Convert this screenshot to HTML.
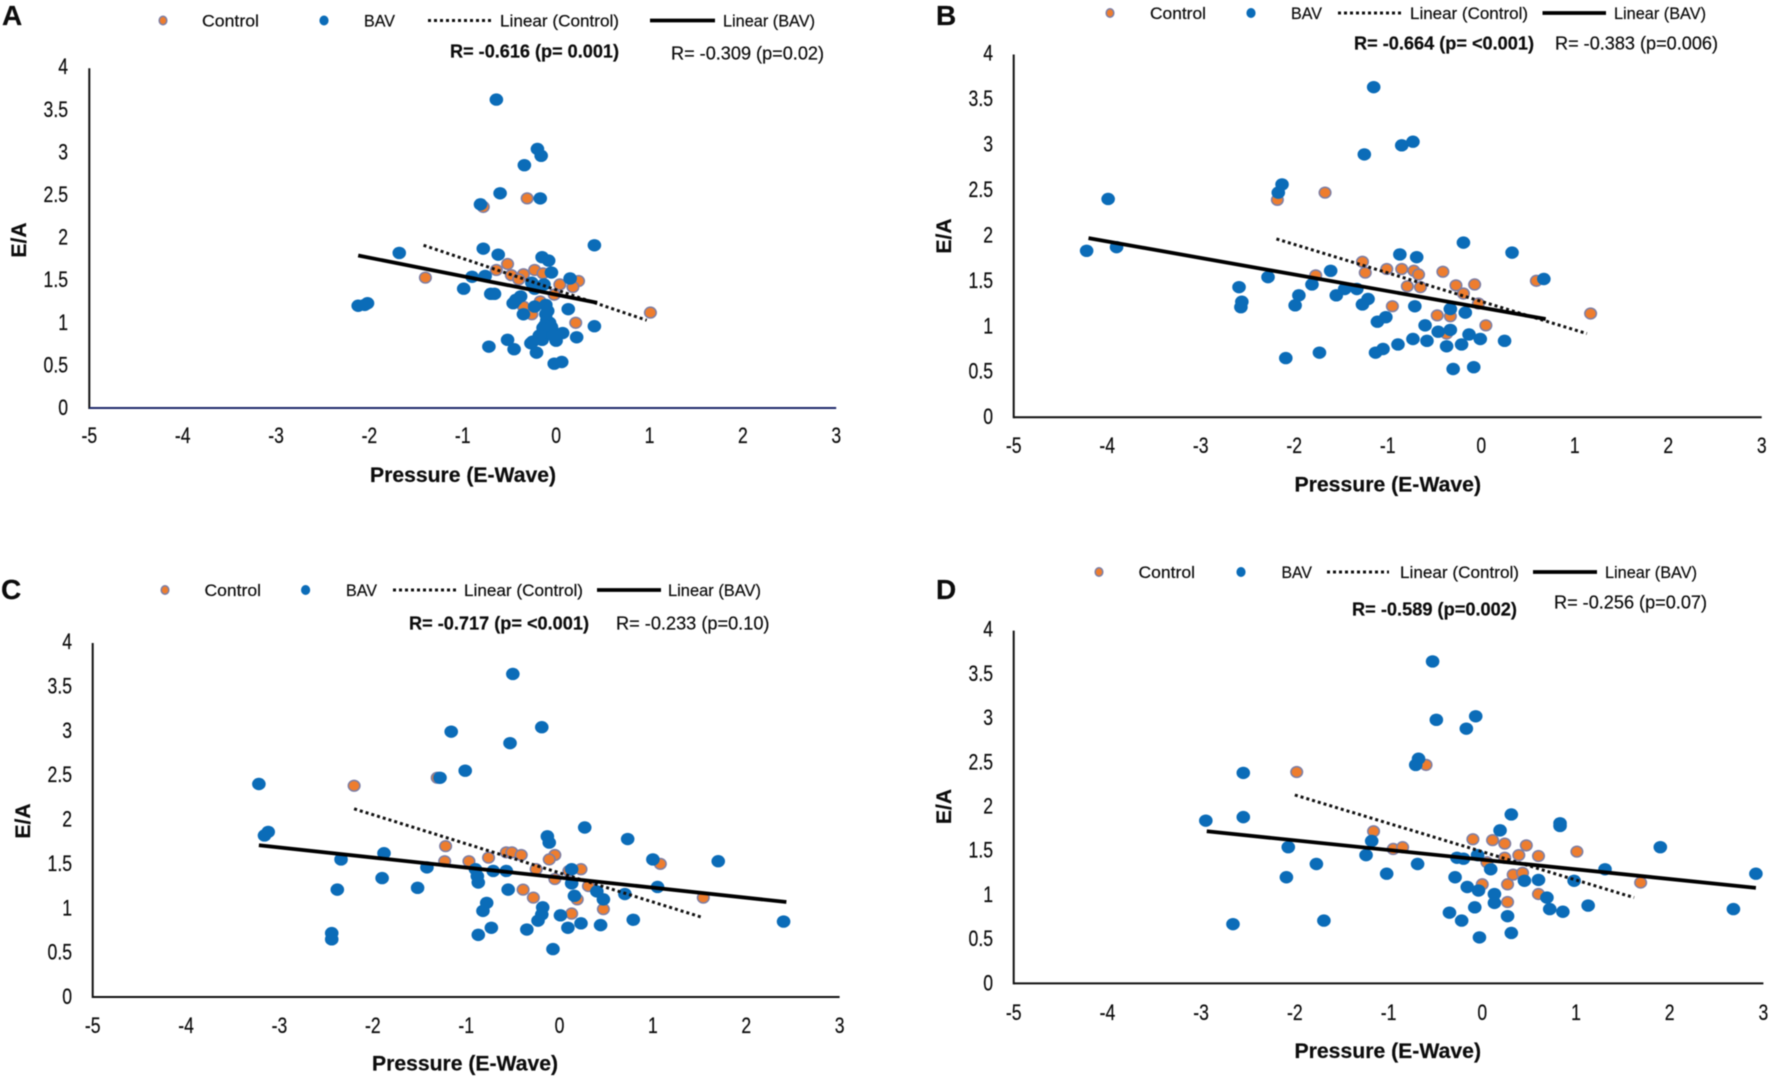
<!DOCTYPE html>
<html lang="en">
<head>
<meta charset="utf-8">
<title>E/A versus Pressure (E-Wave) scatter panels</title>
<style>
html,body{margin:0;padding:0;background:#fff;}
#figure{display:block;width:1772px;height:1082px;filter:blur(0.45px);}
text{font-family:"Liberation Sans",sans-serif;fill:#0c0c0c;stroke:#0c0c0c;stroke-width:0.2px;}
</style>
</head>
<body>
<svg id="figure" xmlns="http://www.w3.org/2000/svg" width="1772" height="1082" viewBox="0 0 1772 1082"></svg>
<script>
// Shared axis ticks
const xTickValues = [-5,-4,-3,-2,-1,0,1,2,3];
const yTickValues = [0,0.5,1,1.5,2,2.5,3,3.5,4];

// Panel A
const aBavX = [-0.64,-0.2,-0.16,-0.34,-0.6,-0.17,-0.81,-1.68,-0.78,-0.62,-0.15,-0.08,0.41,-0.05,-0.9,-0.76,0.15,-0.99,-0.7,-0.66,-0.38,-0.43,-0.46,-0.26,-0.13,-0.23,-0.11,0.13,-0.35,-0.23,-0.11,-0.07,-0.14,0.41,0.07,0.22,-0.52,-0.72,-0.45,-0.27,-0.21,-0.15,0,-0.08,-0.02,0.06,-2.12,-2.05,-2.02,-0.1,-0.12,-0.05,-0.18,-0.25,-0.09,-0.03];
const aBavY = [3.62,3.04,2.96,2.85,2.52,2.46,2.39,1.82,1.87,1.8,1.77,1.73,1.91,1.59,1.54,1.55,1.52,1.4,1.34,1.34,1.31,1.27,1.23,1.47,1.45,1.4,1.21,1.16,1.1,1.19,1.1,1,0.94,0.96,0.88,0.83,0.8,0.72,0.69,0.76,0.65,0.8,0.79,0.88,0.52,0.54,1.2,1.21,1.23,1.03,0.97,0.95,0.85,0.78,1.14,0.85];
const aControlX = [-1.4,-0.78,-0.31,-0.64,-0.52,-0.48,-0.35,-0.4,-0.23,-0.14,0.24,0.18,0.04,-0.02,-0.35,-0.17,-0.26,0.21,-0.03,1.01];
const aControlY = [1.53,2.36,2.46,1.62,1.69,1.56,1.57,1.51,1.62,1.58,1.49,1.42,1.45,1.33,1.19,1.25,1.1,1,0.9,1.12];
const aBavTrendX = [-2.12,0.44];
const aBavTrendY = [1.79,1.235];
const aControlTrendX = [-1.42,0.97];
const aControlTrendY = [1.91,1.03];

// Panel B
const bBavX = [-1.15,-0.73,-0.85,-1.25,-2.13,-2.17,-3.99,-4.22,-3.9,-0.19,0.33,-0.87,-0.69,-1.61,-2.28,0.67,-1.81,-2.59,-1.46,-1.33,-1.95,-1.55,-2.56,-1.21,-1.27,-2.57,-1.99,-0.71,-0.33,-0.17,-1.02,-1.11,-0.6,-0.46,-0.33,-0.13,-0.73,-0.58,-0.01,0.25,-0.89,-0.37,-0.21,-1.05,-1.13,-1.73,-2.09,-0.08,-0.3];
const bBavY = [3.63,3.03,2.99,2.89,2.56,2.47,2.4,1.83,1.87,1.92,1.81,1.79,1.76,1.61,1.54,1.52,1.46,1.43,1.41,1.41,1.34,1.34,1.27,1.3,1.24,1.21,1.23,1.22,1.19,1.15,1.1,1.05,1.01,0.94,0.96,0.91,0.86,0.84,0.86,0.84,0.8,0.78,0.8,0.75,0.71,0.71,0.65,0.55,0.53];
const bControlX = [-2.18,-1.67,-1.27,-1.01,-1.24,-1.77,-0.85,-0.72,-0.67,-0.41,-0.79,-0.65,-0.27,-0.07,-0.19,-0.03,-0.95,-0.47,-0.33,0.05,-0.37,0.59,1.17];
const bControlY = [2.39,2.47,1.71,1.63,1.59,1.56,1.63,1.61,1.57,1.6,1.44,1.43,1.45,1.46,1.36,1.25,1.22,1.12,1.11,1.01,0.92,1.5,1.14];
const bBavTrendX = [-4.2,0.69];
const bBavTrendY = [1.97,1.08];
const bControlTrendX = [-2.19,1.13];
const bControlTrendY = [1.96,0.92];

// Panel C
const cBavX = [-0.5,-0.19,-1.16,-0.53,-1.01,-1.28,-3.22,-3.12,-3.16,0.27,-0.13,-0.11,0.73,-1.88,-2.34,1.7,1,-1.42,-0.9,-0.71,-0.57,0.13,-1.9,-0.88,-0.87,0.13,-1.52,-2.38,-0.55,1.05,0.16,0.4,0.7,0.47,-0.78,-0.82,-0.18,-0.19,-0.23,0.01,0.79,0.23,0.09,0.44,-0.73,-0.35,-0.87,-2.44,-2.44,-0.07,2.4];
const cBavY = [3.64,3.04,2.99,2.86,2.55,2.47,2.4,1.86,1.82,1.91,1.81,1.74,1.78,1.62,1.55,1.53,1.55,1.46,1.44,1.42,1.42,1.44,1.34,1.36,1.29,1.28,1.23,1.21,1.21,1.24,1.14,1.19,1.16,1.1,1.06,0.97,1.01,0.93,0.86,0.92,0.87,0.83,0.78,0.81,0.78,0.76,0.7,0.72,0.65,0.54,0.85];
const cControlX = [-2.2,-1.31,-1.22,-1.23,-0.97,-0.76,-0.57,-0.51,-0.41,-0.05,-0.11,-0.25,0.1,0.23,-0.05,0.31,-0.39,-0.28,0.19,1.08,0.13,0.47,1.54];
const cControlY = [2.38,2.47,1.7,1.53,1.53,1.57,1.63,1.63,1.6,1.6,1.55,1.44,1.42,1.44,1.33,1.25,1.21,1.12,1.1,1.5,0.94,0.99,1.12];
const cBavTrendX = [-3.22,2.43];
const cBavTrendY = [1.71,1.07];
const cControlTrendX = [-2.2,1.52];
const cControlTrendY = [2.12,0.9];

// Panel D
const dBavX = [-0.53,-0.07,-0.49,-0.17,-0.68,-0.71,-2.55,-2.95,-2.55,0.31,0.83,0.83,0.19,-1.18,1.9,-2.07,-1.24,-0.27,-0.2,-0.05,-1.77,-0.69,0.09,1.31,-1.02,2.92,-0.29,-2.09,-0.16,0.45,0.6,0.98,-0.04,0.13,0.69,0.13,-0.08,1.13,0.72,0.86,-0.35,2.68,0.27,-1.69,-0.22,-2.66,0.31,-0.03];
const dBavY = [3.64,3.02,2.98,2.88,2.54,2.47,2.38,1.84,1.88,1.91,1.81,1.78,1.73,1.61,1.54,1.54,1.45,1.42,1.41,1.45,1.35,1.35,1.29,1.29,1.24,1.24,1.2,1.2,1.09,1.16,1.17,1.16,1.05,1.01,0.97,0.91,0.86,0.88,0.84,0.81,0.8,0.84,0.76,0.71,0.71,0.67,0.57,0.52];
const dControlX = [-1.98,-0.6,-1.16,-0.1,0.11,0.24,0.47,-0.95,-0.85,1.01,0.39,0.6,0.24,0.05,0.33,0.43,0.27,0,0.6,0.27,1.69];
const dControlY = [2.39,2.47,1.72,1.63,1.62,1.58,1.56,1.52,1.54,1.49,1.45,1.44,1.42,1.37,1.23,1.25,1.12,1.12,1.01,0.92,1.14];
const dBavTrendX = [-2.94,2.92];
const dBavTrendY = [1.72,1.08];
const dControlTrendX = [-2,1.62];
const dControlTrendY = [2.13,0.97];

const SVGNS = 'http://www.w3.org/2000/svg';
const figure = document.getElementById('figure');

function makeGroup(parent, name) {
  const el = document.createElementNS(SVGNS, 'g');
  
  
  parent.appendChild(el);
  return el;
}

function makeLine(parent, name, x1, y1, x2, y2, color, width, dash) {
  const el = document.createElementNS(SVGNS, 'line');
  
  
  el.setAttribute('x1', x1);
  el.setAttribute('y1', y1);
  el.setAttribute('x2', x2);
  el.setAttribute('y2', y2);
  el.setAttribute('stroke', color);
  el.setAttribute('stroke-width', width);
  if (dash) el.setAttribute('stroke-dasharray', dash);
  parent.appendChild(el);
  return el;
}

function makeText(parent, name, str, x, y, size, bold, anchor, fitWidth, squeeze, rotate) {
  const el = document.createElementNS(SVGNS, 'text');
  
  
  el.textContent = str;
  el.setAttribute('font-size', size);
  if (bold) el.setAttribute('font-weight', 'bold');
  el.setAttribute('text-anchor', anchor || 'start');
  let t = 'translate(' + x + ' ' + y + ')';
  if (rotate) t += ' rotate(' + rotate + ')';
  if (squeeze) t += ' scale(' + squeeze + ' 1)';
  el.setAttribute('transform', t);
  if (fitWidth) {
    el.setAttribute('textLength', fitWidth);
    el.setAttribute('lengthAdjust', 'spacingAndGlyphs');
  }
  parent.appendChild(el);
  return el;
}

function makeDot(parent, name, cx, cy, rx, ry, fill, stroke) {
  const el = document.createElementNS(SVGNS, 'ellipse');
  
  
  el.setAttribute('cx', cx);
  el.setAttribute('cy', cy);
  el.setAttribute('rx', rx);
  el.setAttribute('ry', ry);
  el.setAttribute('fill', fill);
  if (stroke) {
    el.setAttribute('stroke', stroke);
    el.setAttribute('stroke-width', 1.5);
  }
  parent.appendChild(el);
  return el;
}

const BLUE = '#0b6cb8';
const ORANGE = '#ee7d2e';
const OUTLINE = '#7d7fa6';

function drawPanel(p) {
  const g = makeGroup(figure, 'panel-' + p.id.toLowerCase());
  const sx = v => p.x0 + (v - xTickValues[0]) / (xTickValues[xTickValues.length - 1] - xTickValues[0]) * (p.x1 - p.x0);
  const sy = v => p.y0 + (v - yTickValues[0]) / (yTickValues[yTickValues.length - 1] - yTickValues[0]) * (p.y4 - p.y0);

  makeText(g, 'panel-letter', p.id, p.letterX, p.letterY, 28, true);

  // Axes
  makeLine(g, 'y-axis', p.x0, p.y4 + 1, p.x0, p.y0 + 1, '#111', 2);
  makeLine(g, 'x-axis', p.x0, p.y0, p.x1, p.y0, p.xAxisColor, 2);

  xTickValues.forEach(v => {
    makeText(g, 'x-tick-label', String(v), sx(v), p.xTickY, 22, false, 'middle', null, 0.8);
  });
  yTickValues.forEach(v => {
    makeText(g, 'y-tick-label', String(v), p.yTickRight, sy(v) + 7, 22, false, 'end', null, 0.8);
  });
  makeText(g, 'x-axis-title', 'Pressure (E-Wave)', p.titleX, p.titleY, 21, true, 'start', p.titleW);
  makeText(g, 'y-axis-title', 'E/A', p.yTitleX, p.yTitleY, 21, true, 'middle', 35, null, -90);

  // Series
  const controlGroup = makeGroup(g, 'control-series');
  p.controlX.forEach((v, i) => {
    makeDot(controlGroup, 'control-point', sx(v), sy(p.controlY[i]), 5.8, 5.4, ORANGE, OUTLINE);
  });
  const bavGroup = makeGroup(g, 'bav-series');
  p.bavX.forEach((v, i) => {
    makeDot(bavGroup, 'bav-point', sx(v), sy(p.bavY[i]), 6.8, 6.2, BLUE);
  });

  // Trendlines
  makeLine(g, 'linear-control-trendline', sx(p.controlTrendX[0]), sy(p.controlTrendY[0]), sx(p.controlTrendX[1]), sy(p.controlTrendY[1]), '#111', 3, '3 3');
  makeLine(g, 'linear-bav-trendline', sx(p.bavTrendX[0]), sy(p.bavTrendY[0]), sx(p.bavTrendX[1]), sy(p.bavTrendY[1]), '#000', 3.8);

  // Legend
  const lg = makeGroup(g, 'legend');
  const l = p.legend;
  makeDot(lg, 'legend-control-marker', l.controlDot, l.y, 3.8, 4.2, ORANGE, OUTLINE);
  makeText(lg, 'legend-control-label', 'Control', l.controlText[0], l.y + 6, 17, false, 'start', l.controlText[1]);
  makeDot(lg, 'legend-bav-marker', l.bavDot, l.y, 4.6, 5, BLUE);
  makeText(lg, 'legend-bav-label', 'BAV', l.bavText[0], l.y + 6, 17, false, 'start', l.bavText[1]);
  makeLine(lg, 'legend-control-line', l.dotted[0], l.y, l.dotted[1], l.y, '#111', 3, '3 3');
  makeText(lg, 'legend-linear-control-label', 'Linear (Control)', l.dottedText[0], l.y + 6, 17, false, 'start', l.dottedText[1]);
  makeLine(lg, 'legend-bav-line', l.solid[0], l.y, l.solid[1], l.y, '#000', 3.8);
  makeText(lg, 'legend-linear-bav-label', 'Linear (BAV)', l.solidText[0], l.y + 6, 17, false, 'start', l.solidText[1]);

  // Correlation annotations
  const s = p.stats;
  makeText(g, 'control-correlation', s.control[0], s.control[1], s.control[3] + 6.5, 18, true, 'start', s.control[2]);
  makeText(g, 'bav-correlation', s.bav[0], s.bav[1], s.bav[3] + 6.5, 18, false, 'start', s.bav[2]);
}

drawPanel({
  id: 'A', x0: 89.3, x1: 836.2, y0: 408, y4: 67.2, xAxisColor: '#1f2a6b',
  letterX: 2, letterY: 25, yTickRight: 68, xTickY: 443, titleX: 370, titleY: 482, titleW: 186, yTitleX: 26, yTitleY: 240,
  bavX: aBavX, bavY: aBavY, controlX: aControlX, controlY: aControlY,
  bavTrendX: aBavTrendX, bavTrendY: aBavTrendY, controlTrendX: aControlTrendX, controlTrendY: aControlTrendY,
  legend: { y: 20.5, controlDot: 163, controlText: [202, 57], bavDot: 324, bavText: [364, 31], dotted: [428, 492], dottedText: [500, 119], solid: [650, 715], solidText: [723, 92] },
  stats: { control: ['R= -0.616 (p= 0.001)', 450, 169, 51], bav: ['R= -0.309 (p=0.02)', 671, 153, 53] }
});

drawPanel({
  id: 'B', x0: 1013.7, x1: 1761.7, y0: 417.2, y4: 53.5, xAxisColor: '#111',
  letterX: 936, letterY: 25, yTickRight: 993, xTickY: 453, titleX: 1294.5, titleY: 491.5, titleW: 186.5, yTitleX: 951, yTitleY: 236,
  bavX: bBavX, bavY: bBavY, controlX: bControlX, controlY: bControlY,
  bavTrendX: bBavTrendX, bavTrendY: bBavTrendY, controlTrendX: bControlTrendX, controlTrendY: bControlTrendY,
  legend: { y: 13, controlDot: 1110, controlText: [1150, 56], bavDot: 1251, bavText: [1291, 31], dotted: [1338, 1401], dottedText: [1410, 118], solid: [1542.5, 1606], solidText: [1614, 92] },
  stats: { control: ['R= -0.664 (p= <0.001)', 1354, 180, 43], bav: ['R= -0.383 (p=0.006)', 1555, 163, 43] }
});

drawPanel({
  id: 'C', x0: 92.7, x1: 839.6, y0: 997, y4: 642, xAxisColor: '#111',
  letterX: 1, letterY: 599, yTickRight: 72, xTickY: 1033, titleX: 372, titleY: 1070.5, titleW: 186, yTitleX: 30, yTitleY: 821,
  bavX: cBavX, bavY: cBavY, controlX: cControlX, controlY: cControlY,
  bavTrendX: cBavTrendX, bavTrendY: cBavTrendY, controlTrendX: cControlTrendX, controlTrendY: cControlTrendY,
  legend: { y: 590, controlDot: 165, controlText: [204.5, 56.5], bavDot: 305.6, bavText: [346, 31], dotted: [393, 456], dottedText: [464, 119], solid: [597, 661], solidText: [668, 93] },
  stats: { control: ['R= -0.717 (p= <0.001)', 409, 180, 623], bav: ['R= -0.233 (p=0.10)', 616, 153.5, 623] }
});

drawPanel({
  id: 'D', x0: 1013.7, x1: 1763.4, y0: 983.4, y4: 629.6, xAxisColor: '#111',
  letterX: 936, letterY: 599, yTickRight: 993, xTickY: 1020, titleX: 1294.5, titleY: 1058, titleW: 186.5, yTitleX: 951, yTitleY: 806.5,
  bavX: dBavX, bavY: dBavY, controlX: dControlX, controlY: dControlY,
  bavTrendX: dBavTrendX, bavTrendY: dBavTrendY, controlTrendX: dControlTrendX, controlTrendY: dControlTrendY,
  legend: { y: 572, controlDot: 1099, controlText: [1138.5, 56.5], bavDot: 1241, bavText: [1281.5, 30.5], dotted: [1327, 1389], dottedText: [1400, 119], solid: [1533, 1597], solidText: [1605, 92] },
  stats: { control: ['R= -0.589 (p=0.002)', 1352, 165, 609], bav: ['R= -0.256 (p=0.07)', 1554, 153, 602] }
});
</script>
</body>
</html>
